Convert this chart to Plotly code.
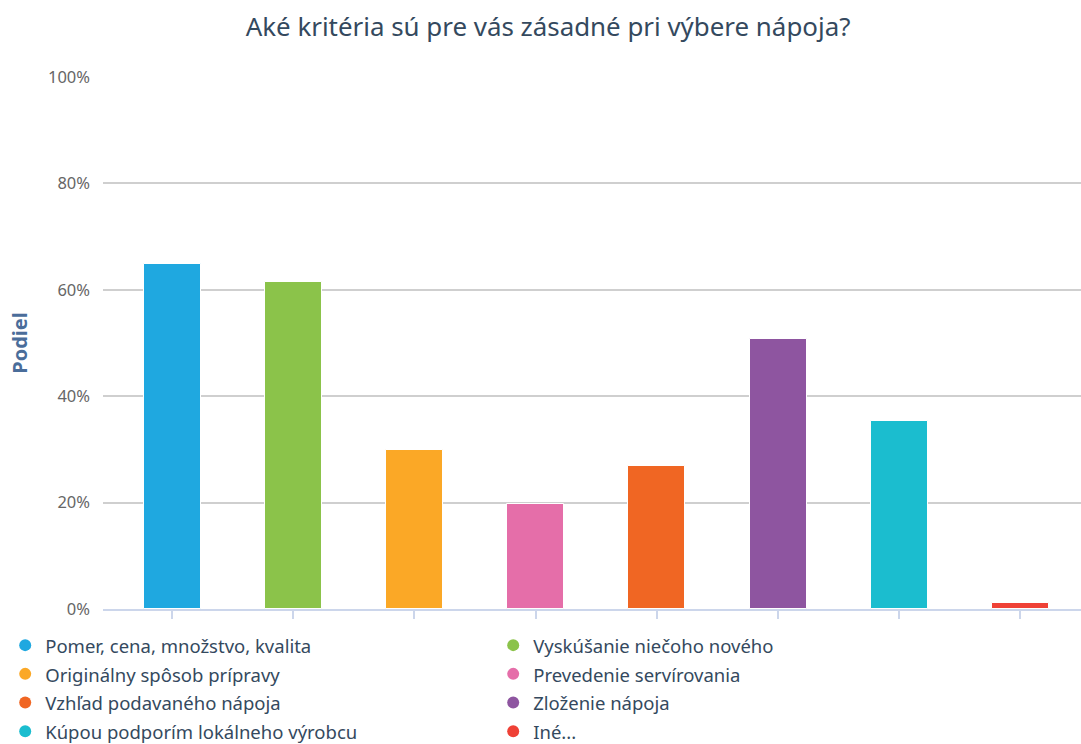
import plotly.graph_objects as go

# Survey answers and the share of respondents choosing each one (percent)
categories = [
    "Pomer, cena, množstvo, kvalita",
    "Vyskúšanie niečoho nového",
    "Originálny spôsob prípravy",
    "Prevedenie servírovania",
    "Vzhľad podavaného nápoja",
    "Zloženie nápoja",
    "Kúpou podporím lokálneho výrobcu",
    "Iné...",
]
shares = [64.9, 61.5, 29.8, 19.8, 26.8, 50.8, 35.3, 1.2]
colors = ["#1fa8e0", "#8bc34a", "#fba826", "#e56ea9",
          "#f06623", "#8e55a0", "#1bbdcf", "#ef4136"]
y_ticks = [0, 20, 40, 60, 80, 100]
y_tick_labels = ["0%", "20%", "40%", "60%", "80%", "100%"]

FONT = "Noto Sans"
TEXT = "#34495e"

fig = go.Figure()

# One bar trace per answer so each has its own colour
for i, (name, val, col) in enumerate(zip(categories, shares, colors)):
    fig.add_trace(go.Bar(
        x=[i], y=[val], name=name, width=0.47,
        marker=dict(color=col, line=dict(color="white", width=1)),
        showlegend=False,
        hovertemplate=f"{name}: %{{y:.1f}}%<extra></extra>",
    ))

# Round legend markers; legend font sets row height, span sets glyph size
for name, col in zip(categories, colors):
    fig.add_trace(go.Scatter(
        x=[None], y=[None], mode="markers",
        name=f'<span style="font-size:18.5px">{name}</span>',
        marker=dict(symbol="circle", size=15, color=col),
        showlegend=True,
    ))

fig.update_layout(
    width=1081, height=744,
    margin=dict(l=103, r=0, t=77, b=135, autoexpand=False),
    paper_bgcolor="white", plot_bgcolor="white",
    font=dict(family=FONT, color=TEXT),
    title=dict(
        text="Aké kritéria sú pre vás zásadné pri výbere nápoja?",
        x=0.507, xanchor="center", y=0.964, yanchor="middle",
        font=dict(size=25.9, color=TEXT, family=FONT),
    ),
    barmode="overlay",
    bargap=0,
    showlegend=True,
    legend=dict(
        orientation="h",
        x=-0.1, xanchor="left",
        y=-0.0315, yanchor="top",
        entrywidth=443, entrywidthmode="pixels",
        font=dict(size=19.8, color=TEXT, family=FONT),
        itemsizing="constant",
        tracegroupgap=0,
        bgcolor="rgba(0,0,0,0)",
    ),
    xaxis=dict(
        range=[-0.57, 7.5],
        tickmode="array", tickvals=list(range(len(categories))),
        ticktext=[""] * len(categories),
        showgrid=False, zeroline=False,
        showline=True, linecolor="#ccd6eb", linewidth=1.5,
        ticks="outside", ticklen=8, tickcolor="#ccd6eb", tickwidth=1.5,
        fixedrange=True,
    ),
    yaxis=dict(
        range=[0, 100],
        tickmode="array", tickvals=y_ticks, ticktext=y_tick_labels,
        showgrid=True, gridcolor="#cfcfcf", gridwidth=1.5,
        zeroline=False, showline=False,
        tickfont=dict(size=16.5, color="#666666", family=FONT),
        ticklabelstandoff=12,
        title=dict(text="<b>Podiel</b>", standoff=14,
                   font=dict(size=20, color="#4a6d9a", family=FONT)),
        fixedrange=True,
    ),
)

fig.write_html("out.html")
